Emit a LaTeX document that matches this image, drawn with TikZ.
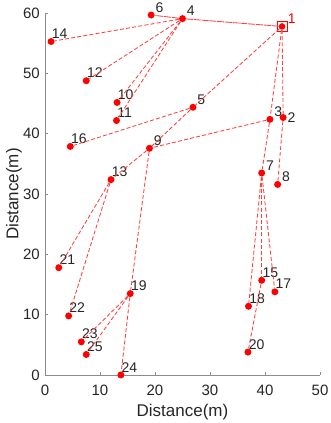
\documentclass[tikz,border=0pt]{standalone}
\usepackage{fontspec}
\setmainfont{Liberation Sans}
\usetikzlibrary{positioning}

\begin{document}
\begin{tikzpicture}[x=5.5pt,y=6.03pt,
dot/.style={circle,fill=red,inner sep=0pt,minimum size=7pt},
sink/.style={dot,minimum size=6.6pt},
frame/.style={draw=red,line width=0.7pt},
lbl/.style={inner sep=0pt,text=black!85,font=\fontsize{14}{14}\selectfont},
tag/.style={lbl,right=4.2pt of #1.center,yshift=7.8pt},
tagg/.style={lbl,right=0.6pt of #1.center,yshift=7.8pt},
link/.style={draw=red!75,line width=0.85pt,dash pattern=on 4pt off 2.2pt},
tight/.style={link,dash pattern=on 7pt off 0.8pt},
axisline/.style={draw=black!45,line width=0.6pt},
ticklbl/.style={inner sep=0pt,text=black!85,font=\fontsize{15}{15}\selectfont},
axislbl/.style={inner sep=0pt,text=black!85,font=\fontsize{17}{17}\selectfont}]
\useasboundingbox (-45pt,-48pt) rectangle (285pt,375pt);
\draw[axisline] (0,60) -- (0,0) -- (50,0);
\foreach \v in {0,10,...,60} {\draw[axisline] (0,\v) -- ++(3pt,0); \node[ticklbl,anchor=east] (yt\v) at ([xshift=-5pt]0,\v) {\v};}
\foreach \v in {0,10,...,50} {\draw[axisline] (\v,0) -- ++(0,3pt); \node[ticklbl,anchor=north] (xt\v) at ([yshift=-10pt]\v,0) {\v};}
\node[axislbl,anchor=base] (xlab) at ([yshift=-41.7pt]25,0) {Distance(m)};
\node[axislbl,anchor=base,rotate=90] (ylab) at ([xshift=-26.7pt]0,30) {Distance(m)};

\node[sink] (n1) at (43.1,57.8) {};
\draw[frame] ([shift={(-5.2pt,-5.2pt)}]n1.center) rectangle ([shift={(5.2pt,5.2pt)}]n1.center);
\node[dot] (n2) at (43.3,42.7) {};
\node[dot] (n3) at (40.9,42.4) {};
\node[dot] (n4) at (25.0,59.1) {};
\node[dot] (n5) at (26.9,44.4) {};
\node[dot] (n6) at (19.3,59.7) {};
\node[dot] (n7) at (39.4,33.5) {};
\node[dot] (n8) at (42.3,31.6) {};
\node[dot] (n9) at (19.0,37.6) {};
\node[dot] (n10) at (13.1,45.2) {};
\node[dot] (n11) at (13.0,42.2) {};
\node[dot] (n12) at (7.5,48.8) {};
\node[dot] (n13) at (12.0,32.4) {};
\node[dot] (n14) at (1.1,55.3) {};
\node[dot] (n15) at (39.4,15.7) {};
\node[dot] (n16) at (4.6,37.9) {};
\node[dot] (n17) at (41.8,13.8) {};
\node[dot] (n18) at (37.0,11.4) {};
\node[dot] (n19) at (15.5,13.5) {};
\node[dot] (n20) at (36.9,3.8) {};
\node[dot] (n21) at (2.5,17.8) {};
\node[dot] (n22) at (4.3,9.8) {};
\node[dot] (n23) at (6.6,5.5) {};
\node[dot] (n24) at (13.8,0.0) {};
\node[dot] (n25) at (7.5,3.4) {};

\node[tag=n1,xshift=1.5pt,text=red] (t1) {1};
\node[lbl,right=4.3pt of n2.center] (t2) {2};
\node[tag=n3] (t3) {3};
\node[tag=n4] (t4) {4};
\node[tag=n5] (t5) {5};
\node[tag=n6] (t6) {6};
\node[tag=n7] (t7) {7};
\node[tag=n8] (t8) {8};
\node[tag=n9] (t9) {9};
\node[tagg=n10] (t10) {10};
\node[tagg=n11] (t11) {11};
\node[tagg=n12] (t12) {12};
\node[tagg=n13] (t13) {13};
\node[tagg=n14] (t14) {14};
\node[tagg=n15] (t15) {15};
\node[tagg=n16] (t16) {16};
\node[tagg=n17] (t17) {17};
\node[tagg=n18] (t18) {18};
\node[tagg=n19] (t19) {19};
\node[tagg=n20] (t20) {20};
\node[tagg=n21] (t21) {21};
\node[tagg=n22] (t22) {22};
\node[tagg=n23] (t23) {23};
\node[tagg=n24] (t24) {24};
\node[tagg=n25] (t25) {25};

\draw[tight] (n1) -- (n4);
\draw[tight] (n4) -- (n6);
\draw[link] (n4) -- (n14);
\draw[link] (n4) -- (n12);
\draw[link] (n4) -- (n10);
\draw[link] (n4) -- (n11);
\draw[link] (n1) -- (n5);
\draw[link] (n5) -- (n16);
\draw[link] (n5) -- (n9);
\draw[link] (n1) -- (n3);
\draw[link] (n1) -- (n2);
\draw[link] (n3) -- (n9);
\draw[link] (n3) -- (n7);
\draw[link] (n2) -- (n8);
\draw[link] (n9) -- (n13);
\draw[link] (n9) -- (n19);
\draw[link] (n19) -- (n24);
\draw[link] (n13) -- (n21);
\draw[link] (n13) -- (n22);
\draw[link] (n19) -- (n23);
\draw[link] (n19) -- (n25);
\draw[link] (n7) -- (n18);
\draw[link] (n7) -- (n15);
\draw[link] (n7) -- (n17);
\draw[link] (n15) -- (n20);
\end{tikzpicture}
\end{document}
